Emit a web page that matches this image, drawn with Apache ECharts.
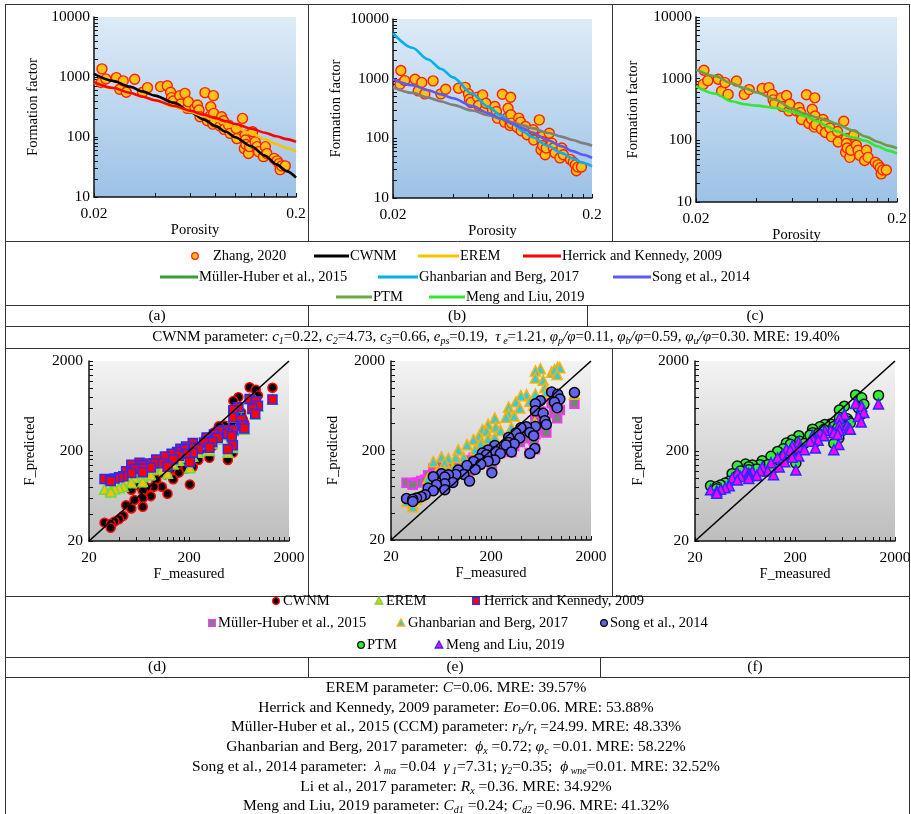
<!DOCTYPE html>
<html>
<head>
<meta charset="utf-8">
<script src="https://cdn.jsdelivr.net/npm/echarts@6/dist/echarts.min.js"></script>
<style>html,body{margin:0;padding:0;background:#fff}#main{width:911px;height:814px}</style>
</head>
<body>
<div id="main"></div>
<script>
// Zhang, 2020 samples (sorted by porosity)
var porosity = [0.0217,0.0219,0.0229,0.0258,0.0268,0.0279,0.0289,0.0318,0.0348,0.0368,0.0427,0.0461,0.0479,0.0484,0.0493,0.0532,0.0538,0.0564,0.058,0.0586,0.0632,0.065,0.0662,0.067,0.0709,0.0728,0.0751,0.0757,0.0775,0.078,0.0782,0.0789,0.0842,0.0857,0.0875,0.0881,0.0927,0.0944,0.1012,0.1019,0.1087,0.111,0.112,0.1122,0.113,0.1164,0.1178,0.122,0.1256,0.128,0.1306,0.138,0.141,0.1435,0.156,0.161,0.165,0.167,0.170,0.177];
var fMeasured = [807,1367,929,977,624,861,556,918,556,665,692,715,556,453,398,489,355,534,300,388,300,341,282,218,549,187,223,320,164,489,248,180,152,218,187,134,158,115,139,94,204,64,107,89,75,53,69,122,83,69,57,47,69,53,44,40,36,28.6,33,33];

// model curves, panels (a)-(c)
var curvePorosity = [0.02,0.025,0.03,0.035,0.04,0.05,0.06,0.07,0.08,0.09,0.1,0.12,0.14,0.16,0.18,0.2];
var cwnmCurve    = [1130,860,690,570,490,370,260,195,152,122,99,70,49,35,27,21];
var eremCurve    = [800,650,540,470,410,320,262,222,190,165,145,115,92,76,65,57];
var herrickCurve = [817,655,546,468,410,328,274,235,206,183,165,138,118,103,92,83];
var mullerCurve  = [718,577,482,415,364,292,245,211,185,165,148,124,107,94,83,75];
var ghanCurve    = [5800,3300,2100,1450,1050,560,340,240,175,130,105,75,57,46,39,34];
var songCurve    = [980,780,640,545,470,350,265,215,175,147,125,93,74,61,53,47];
var ptmCurve     = [1400,1100,840,700,600,450,330,270,235,210,185,145,115,95,82,74];
var mengCurve    = [750,570,430,385,365,335,290,245,205,168,140,112,98,80,68,61];

// predicted F for each sample, panels (d)-(f)
var cwnmPred    = [1023,1011,958,829,791,753,721,642,575,537,449,408,389,385,376,329,322,295,279,273,237,225,217,212,191,181,171,168,161,159,159,155,138,133,128,127,115,110,97,96,85,82,80,80,79,74,72,67,63,60,57,50,48,46,38,35,33,32,31,28];
var eremPred    = [760,750,710,630,610,585,560,515,475,450,385,350,335,332,325,303,300,285,276,272,250,243,238,235,219,212,204,202,196,194,194,192,178,175,170,169,158,154,143,142,130,127,125,125,124,119,117,113,108,105,102,95,91,89,81,78,76,75,73,70];
var herrickPred = [756,749,716,636,612,588,567,516,471,446,384,356,342,339,333,308,305,291,283,280,259,252,248,245,231,225,218,217,212,210,210,208,195,191,187,186,177,174,162,161,151,148,146,146,145,141,139,134,131,128,126,119,116,114,105,102,99,98,96,93];
var mullerPred  = [673,667,637,566,545,523,505,459,419,397,342,317,304,302,296,274,271,259,252,249,231,224,221,218,206,200,194,193,189,187,187,185,174,170,166,166,158,155,144,143,134,132,130,130,129,125,124,119,117,114,112,106,103,101,94,91,88,87,85,83];
var ghanPred    = [1500,850,1700,1680,1640,1590,1550,1410,1290,1220,1010,900,850,840,820,710,700,640,610,595,510,485,470,460,410,390,365,360,340,335,335,330,290,280,270,265,240,232,205,203,178,170,167,167,163,150,146,135,126,120,113,98,92,88,70,62,57,54,51,47];
var songPred    = [900,890,850,750,720,690,665,600,555,520,431,390,372,368,358,318,313,293,280,276,246,237,231,227,210,203,195,193,187,185,185,179,162,157,152,151,140,136,123,121,113,110,108,108,107,102,101,91,88,85,83,76,73,71,64,61,59,58,57,54];
var ptmPred     = [840,830,780,660,630,600,570,510,470,455,425,410,400,398,395,375,372,360,350,346,320,310,300,296,277,265,256,253,245,242,242,238,212,206,200,198,180,175,158,156,146,143,141,141,140,136,134,129,126,124,120,112,110,106,92,88,84,82,80,76];
var mengPred    = [675,665,630,537,510,485,462,421,392,383,360,348,341,339,337,319,317,305,298,295,272,263,257,252,236,227,218,216,209,207,207,204,181,176,170,168,152,148,133,132,123,121,120,120,119,115,113,109,107,106,104,100,99,95,82,78,75,74,72,68];
var diagonal = [20, 2000];

// axis ticks and labels
var topXLabels = [0.02, 0.2];
var topXTicks = [0.02,0.04,0.06,0.08,0.1,0.12,0.14,0.16,0.18,0.2];
var topYLabels = [10, 100, 1000, 10000];
var topYTicks = [10,20,30,40,50,60,70,80,90,100,200,300,400,500,600,700,800,900,1000,2000,3000,4000,5000,6000,7000,8000,9000,10000];
var botLabels = [20, 200, 2000];
var botTicks = [20,40,60,80,100,120,140,160,180,200,400,600,800,1000,1200,1400,1600,1800,2000];

var SERIF = "'Liberation Serif','Times New Roman',serif";
var chart = echarts.init(document.getElementById('main'), null, {renderer: 'canvas'});

function pairs(xs, ys) { return xs.map(function (x, i) { return [x, ys[i]]; }); }

function grid(l, t, w, h, c1, c2) {
  return {left: l, top: t, width: w, height: h, show: true, borderWidth: 0, outerBoundsMode: 'none',
    backgroundColor: new echarts.graphic.LinearGradient(0, 0, 0, 1, [{offset: 0, color: c1}, {offset: 1, color: c2}])};
}

function fmt(v) { return String(+(+v).toPrecision(6)); }

function axis(gi, min, max, labels, ticks, name, gap, margin) {
  return {
    type: 'log', logBase: 10, gridIndex: gi, min: min, max: max,
    name: name, nameLocation: 'middle', nameGap: gap,
    nameTextStyle: {fontFamily: SERIF, fontSize: 14.5, color: '#000'},
    axisLine: {show: true, onZero: false, lineStyle: {color: '#111', width: 1.5}},
    axisTick: {show: true, inside: true, length: 4, customValues: ticks, lineStyle: {color: '#111', width: 1}},
    axisLabel: {customValues: labels, margin: margin, formatter: fmt, fontFamily: SERIF, fontSize: 15.5, color: '#000'},
    minorTick: {show: false}, splitLine: {show: false}
  };
}

var grids = [
  grid(94, 17, 202, 180, '#deebf7', '#9cc2e6'),
  grid(393, 19, 199, 179, '#deebf7', '#9cc2e6'),
  grid(696, 17, 201, 185, '#deebf7', '#9cc2e6'),
  grid(89, 361, 200, 180, '#f3f3f3', '#bdbdbd'),
  grid(391, 361, 200, 179, '#f3f3f3', '#bdbdbd'),
  grid(695, 361, 200, 180, '#f3f3f3', '#bdbdbd')
];

var xAxes = [
  axis(0, 0.02, 0.2, topXLabels, topXTicks, 'Porosity', 23, 9),
  axis(1, 0.02, 0.2, topXLabels, topXTicks, 'Porosity', 23, 9),
  axis(2, 0.02, 0.2, topXLabels, topXTicks, 'Porosity', 20, 9),
  axis(3, 20, 2000, botLabels, botTicks, 'F_measured', 25, 9),
  axis(4, 20, 2000, botLabels, botTicks, 'F_measured', 25, 9),
  axis(5, 20, 2000, botLabels, botTicks, 'F_measured', 25, 9)
];
var yAxes = [
  axis(0, 10, 10000, topYLabels, topYTicks, 'Formation factor', 53, 4),
  axis(1, 10, 10000, topYLabels, topYTicks, 'Formation factor', 49, 4),
  axis(2, 10, 10000, topYLabels, topYTicks, 'Formation factor', 55, 4),
  axis(3, 20, 2000, botLabels, botTicks, 'F_predicted', 51, 6),
  axis(4, 20, 2000, botLabels, botTicks, 'F_predicted', 50, 6),
  axis(5, 20, 2000, botLabels, botTicks, 'F_predicted', 49, 6)
];

function curve(gi, name, ys, color) {
  return {type: 'line', name: name, xAxisIndex: gi, yAxisIndex: gi, data: pairs(curvePorosity, ys),
    showSymbol: false, smooth: 0.3, smoothMonotone: 'x', lineStyle: {color: color, width: 2.6}, silent: true};
}
function zhang(gi) {
  return {type: 'scatter', name: 'Zhang, 2020', xAxisIndex: gi, yAxisIndex: gi, data: pairs(porosity, fMeasured),
    symbolSize: 10, itemStyle: {color: '#ffc21a', borderColor: '#ff2200', borderWidth: 1.4, opacity: 1}};
}
function diag(gi) {
  return {type: 'line', xAxisIndex: gi, yAxisIndex: gi, data: pairs(diagonal, diagonal), showSymbol: false,
    lineStyle: {color: '#000', width: 1.6}, silent: true};
}
function pred(gi, name, ys, symbol, fill, stroke, size) {
  return {type: 'scatter', name: name, xAxisIndex: gi, yAxisIndex: gi, data: pairs(fMeasured, ys),
    symbol: symbol, symbolSize: size, itemStyle: {color: fill, borderColor: stroke, borderWidth: 1.5, opacity: 1}};
}

var series = [
  curve(0, 'CWNM', cwnmCurve, '#000000'),
  curve(0, 'EREM', eremCurve, '#ffc000'),
  curve(0, 'Herrick and Kennedy, 2009', herrickCurve, '#ff0000'),
  zhang(0),
  curve(1, 'Ghanbarian and Berg, 2017', ghanCurve, '#00b0f0'),
  curve(1, 'Müller-Huber et al., 2015', mullerCurve, '#7f7f7f'),
  curve(1, 'Song et al., 2014', songCurve, '#5b5bf5'),
  zhang(1),
  curve(2, 'PTM', ptmCurve, '#6e9b47'),
  curve(2, 'Meng and Liu, 2019', mengCurve, '#33e633'),
  zhang(2),
  diag(3),
  pred(3, 'CWNM', cwnmPred, 'circle', '#000000', '#ff0000', 9),
  pred(3, 'EREM', eremPred, 'triangle', '#ffc000', '#66dd44', 10),
  pred(3, 'Herrick and Kennedy, 2009', herrickPred, 'rect', '#ff0000', '#2b2bff', 9),
  diag(4),
  pred(4, 'Müller-Huber et al., 2015', mullerPred, 'rect', '#7f7f7f', '#ff33ff', 9),
  pred(4, 'Ghanbarian and Berg, 2017', ghanPred, 'triangle', '#33ccdd', '#ffb000', 10),
  pred(4, 'Song et al., 2014', songPred, 'circle', '#6464ee', '#000000', 10),
  diag(5),
  pred(5, 'PTM', ptmPred, 'circle', '#33ee33', '#111111', 10),
  pred(5, 'Meng and Liu, 2019', mengPred, 'triangle', '#ff00ff', '#2b2bff', 10)
];

// table frame
var G = [];
function hline(y, x1, x2) { G.push({type: 'line', shape: {x1: x1, y1: y + 0.5, x2: x2, y2: y + 0.5}, style: {stroke: '#333', lineWidth: 1}, silent: true}); }
function vline(x, y1, y2) { G.push({type: 'line', shape: {x1: x + 0.5, y1: y1, x2: x + 0.5, y2: y2}, style: {stroke: '#333', lineWidth: 1}, silent: true}); }
[4, 241, 305, 326, 348, 596, 657, 677].forEach(function (y) { hline(y, 5, 910); });
vline(5, 4, 814); vline(909, 4, 814);
vline(308, 4, 241); vline(612, 4, 241);
vline(308, 305, 326); vline(587, 305, 326);
vline(308, 348, 596); vline(612, 348, 596);
vline(308, 657, 677); vline(600, 657, 677);

function txt(x, y, s, align, size, rich) {
  var st = {text: s, x: x, y: y, fill: '#000', fontFamily: SERIF, fontSize: size || 14.5, align: align || 'left', verticalAlign: 'middle', lineHeight: 18};
  if (rich) st.rich = rich;
  G.push({type: 'text', style: st, silent: true});
}
function lkey(x1, x2, y, color) { G.push({type: 'line', shape: {x1: x1, y1: y, x2: x2, y2: y}, style: {stroke: color, lineWidth: 3}, silent: true}); }
function mkey(kind, x, y, fill, stroke) {
  var st = {fill: fill, stroke: stroke, lineWidth: 1.3};
  if (kind === 'circle') G.push({type: 'circle', shape: {cx: x, cy: y, r: 3.3}, style: st});
  else if (kind === 'rect') G.push({type: 'rect', shape: {x: x - 3.3, y: y - 3.3, width: 6.6, height: 6.6}, style: st});
  else G.push({type: 'polygon', shape: {points: [[x, y - 4], [x + 3.8, y + 3], [x - 3.8, y + 3]]}, style: st});
}

// legend of panels (a)-(c)
mkey('circle', 195, 256, '#ffc21a', '#ff2200'); txt(213, 256, 'Zhang, 2020');
lkey(314, 349, 256, '#000000'); txt(350, 256, 'CWNM');
lkey(418, 459, 256, '#ffc000'); txt(460, 256, 'EREM');
lkey(523, 561, 256, '#ff0000'); txt(562, 256, 'Herrick and Kennedy, 2009');
lkey(160, 198, 277, '#3d9a3d'); txt(199, 277, 'Müller-Huber et al., 2015');
lkey(378, 418, 277, '#00b0f0'); txt(419, 277, 'Ghanbarian and Berg, 2017');
lkey(613, 651, 277, '#5b5bf5'); txt(652, 277, 'Song et al., 2014');
lkey(336, 372, 297, '#6ea847'); txt(373, 297, 'PTM');
lkey(429, 465, 297, '#33e633'); txt(466, 297, 'Meng and Liu, 2019');

// legend of panels (d)-(f)
mkey('circle', 276, 601, '#000000', '#ff0000'); txt(283, 601, 'CWNM');
mkey('triangle', 379, 601, '#ffc000', '#66dd44'); txt(386, 601, 'EREM');
mkey('rect', 476, 601, '#ff0000', '#2b2bff'); txt(484, 601, 'Herrick and Kennedy, 2009');
mkey('rect', 212, 623, '#7f7f7f', '#ff33ff'); txt(218, 623, 'Müller-Huber et al., 2015');
mkey('triangle', 401, 623, '#33ccdd', '#ffb000'); txt(408, 623, 'Ghanbarian and Berg, 2017');
mkey('circle', 604, 623, '#6464ee', '#000000'); txt(610, 623, 'Song et al., 2014');
mkey('circle', 361, 645, '#33ee33', '#111111'); txt(367, 645, 'PTM');
mkey('triangle', 439, 645, '#ff00ff', '#2b2bff'); txt(446, 645, 'Meng and Liu, 2019');

// panel labels
txt(157, 316, '(a)', 'center', 15.5); txt(457, 316, '(b)', 'center', 15.5); txt(755, 316, '(c)', 'center', 15.5);
txt(157, 667, '(d)', 'center', 15.5); txt(455, 667, '(e)', 'center', 15.5); txt(755, 667, '(f)', 'center', 15.5);

// parameter text
function richSet(fs) {
  return {
    i: {fontFamily: SERIF, fontSize: fs, fontStyle: 'italic', lineHeight: 18},
    s: {fontFamily: SERIF, fontSize: 10, fontStyle: 'italic', verticalAlign: 'bottom'},
    n: {fontFamily: SERIF, fontSize: fs, lineHeight: 18}
  };
}
txt(496, 337, '{n|CWNM parameter: }{i|c}{s|1}{n|=0.22, }{i|c}{s|2}{n|=4.73, }{i|c}{s|3}{n|=0.66, }{i|e}{s|ps}{n|=0.19,  }{i|τ}{s| e}{n|=1.21, }{i|φ}{s|p}{i|/φ}{n|=0.11, }{i|φ}{s|b}{i|/φ}{n|=0.59, }{i|φ}{s|u}{i|/φ}{n|=0.30. MRE: 19.40%}', 'center', 15, richSet(15));
var lines = [
  '{n|EREM parameter: }{i|C}{n|=0.06. MRE: 39.57%}',
  '{n|Herrick and Kennedy, 2009 parameter: }{i|Eo}{n|=0.06. MRE: 53.88%}',
  '{n|Müller-Huber et al., 2015 (CCM) parameter: }{i|r}{s|b}{i|/r}{s|t}{n| =24.99. MRE: 48.33%}',
  '{n|Ghanbarian and Berg, 2017 parameter:  }{i|ϕ}{s|x}{n| =0.72; }{i|φ}{s|c}{n| =0.01. MRE: 58.22%}',
  '{n|Song et al., 2014 parameter:  }{i|λ}{s| ma}{n| =0.04  }{i|γ}{s| 1}{n|=7.31; }{i|γ}{s|2}{n|=0.35;  }{i|ϕ}{s| wne}{n|=0.01. MRE: 32.52%}',
  '{n|Li et al., 2017 parameter: }{i|R}{s|x}{n| =0.36. MRE: 34.92%}',
  '{n|Meng and Liu, 2019 parameter: }{i|C}{s|d1}{n| =0.24; }{i|C}{s|d2}{n| =0.96. MRE: 41.32%}'
];
var lineY = [688, 707.5, 727, 747, 767, 787, 806];
lines.forEach(function (s, k) { txt(456, lineY[k], s, 'center', 15.5, richSet(15.5)); });

chart.setOption({
  animation: false,
  backgroundColor: '#ffffff',
  grid: grids, xAxis: xAxes, yAxis: yAxes,
  series: series,
  graphic: {elements: G}
});
</script>
</body>
</html>
